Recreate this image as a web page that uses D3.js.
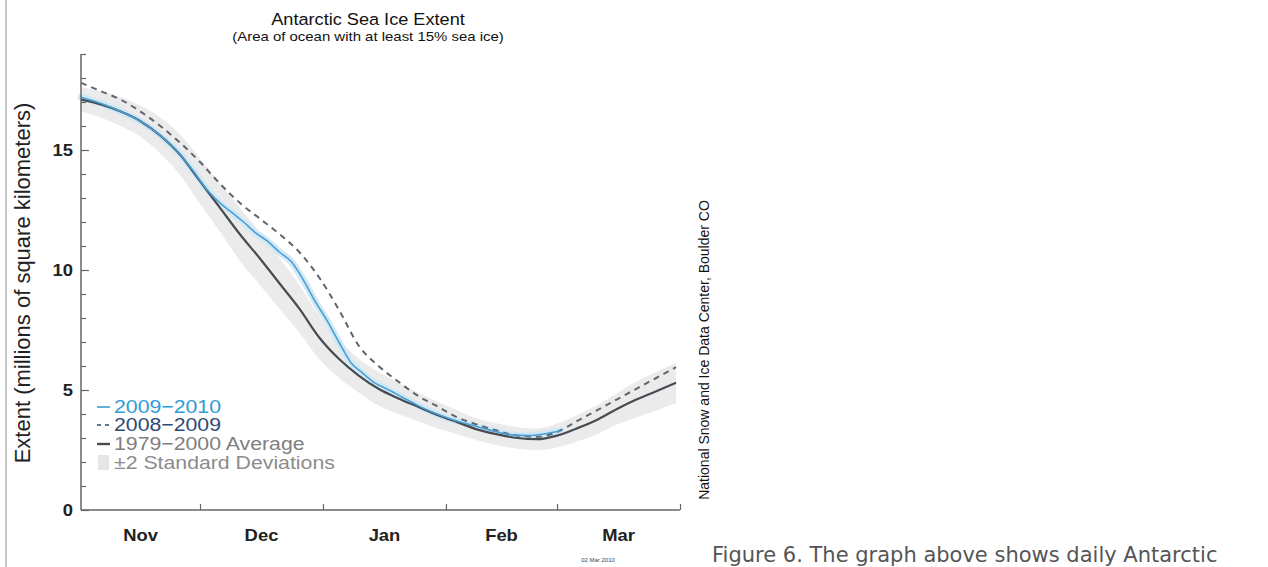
<!DOCTYPE html>
<html>
<head>
<meta charset="utf-8">
<script src="https://cdn.jsdelivr.net/npm/d3@7"></script>
<style>
  html, body { margin: 0; padding: 0; background: #fff; }
  svg { display: block; }
</style>
</head>
<body>
<svg id="chart" width="1268" height="567"></svg>
<script>
// Days counted from 1 November 2009
const avgDays = [0,5,10,15,20,25,30,35,40,45,50,55,60,65,70,75,80,85,90,95,100,105,110,115,120,125,130,135,140,145,150];
const avgValues = [17.1,16.9,16.6,16.2,15.6,14.8,13.7,12.6,11.5,10.5,9.45,8.4,7.2,6.3,5.6,5.05,4.65,4.3,3.95,3.65,3.35,3.15,3.0,2.95,3.1,3.4,3.75,4.2,4.6,4.95,5.3];
const bandHigh = [17.6,17.45,17.2,16.85,16.35,15.65,14.65,13.6,12.6,11.6,10.5,9.4,8.1,7.1,6.3,5.75,5.3,4.9,4.5,4.15,3.8,3.6,3.45,3.4,3.6,3.95,4.35,4.85,5.35,5.75,6.15];
const bandLow = [16.6,16.35,16.0,15.55,14.85,13.95,12.75,11.6,10.4,9.4,8.4,7.4,6.3,5.5,4.9,4.35,4.0,3.7,3.4,3.15,2.9,2.7,2.55,2.5,2.6,2.85,3.15,3.55,3.85,4.15,4.45];

const prevDays = [0,5,10,15,20,25,30,35,40,45,50,55,60,65,70,75,80,85,90,95,100,105,110,115,120,125,130,135,140,145,150];
const prevValues = [17.8,17.45,17.1,16.6,16.0,15.3,14.5,13.6,12.8,12.15,11.5,10.75,9.7,8.35,6.85,6.0,5.35,4.75,4.3,3.85,3.55,3.3,3.1,3.05,3.25,3.7,4.15,4.6,5.05,5.5,5.95];

const curDays = [0,4,8,12,16,20,24,28,32,35,38,41,44,47,50,53,56,59,62,65,68,71,74,77,81,85,89,93,97,101,105,109,113,117,121];
const curValues = [17.2,17.0,16.75,16.45,16.1,15.6,15.0,14.2,13.3,12.8,12.4,12.0,11.55,11.2,10.75,10.35,9.6,8.7,7.9,7.0,6.15,5.7,5.3,5.05,4.7,4.35,4.05,3.8,3.6,3.42,3.25,3.12,3.1,3.18,3.3];

const monthNames = ["Nov","Dec","Jan","Feb","Mar"];
const yMajorTicks = [0,5,10,15];
const legendLabels = ["2009\u22122010","2008\u22122009","1979\u22122000 Average","\u00b12 Standard Deviations"];

const start = new Date(2009, 10, 1);
const end = new Date(2010, 3, 1);
const toDate = d => d3.timeDay.offset(start, d);

const svg = d3.select("#chart");
const FONT = "'Liberation Sans', Arial, Helvetica, sans-serif";
const SX = 1.15; // horizontal stretch of the chart lettering

const x = d3.scaleTime().domain([start, end]).range([81, 680]);
const y = d3.scaleLinear().domain([0, 19]).range([510, 54]);

// page border on the left
svg.append("line").attr("x1", 6).attr("x2", 6).attr("y1", 0).attr("y2", 567)
  .attr("stroke", "#c8c8c8").attr("stroke-width", 2);

function label(g, px, py, txt, opts) {
  const o = Object.assign({size: 16, anchor: "start", fill: "#111", weight: "normal", rotate: 0, sx: SX, family: FONT}, opts || {});
  const t = g.append("g").attr("transform", `translate(${px},${py}) scale(${o.sx},1)` + (o.rotate ? ` rotate(${o.rotate})` : ""));
  return t.append("text").text(txt)
    .attr("font-family", o.family).attr("font-size", o.size)
    .attr("font-weight", o.weight).attr("fill", o.fill)
    .attr("text-anchor", o.anchor);
}

// titles
label(svg, 368, 25, "Antarctic Sea Ice Extent", {size: 16.5, anchor: "middle", sx: 1.1});
label(svg, 368, 41, "(Area of ocean with at least 15% sea ice)", {size: 13, anchor: "middle"});

const plot = svg.append("g");

// ±2 standard deviation band
const bandData = avgDays.map((d, i) => ({date: toDate(d), lo: bandLow[i], hi: bandHigh[i]}));
plot.append("path").datum(bandData)
  .attr("fill", "#ebebeb")
  .attr("d", d3.area().curve(d3.curveMonotoneX).x(d => x(d.date)).y0(d => y(d.lo)).y1(d => y(d.hi)));

const line = d3.line().curve(d3.curveMonotoneX).x(d => x(d.date)).y(d => y(d.v));
const avgData = avgDays.map((d, i) => ({date: toDate(d), v: avgValues[i]}));
const prevData = prevDays.map((d, i) => ({date: toDate(d), v: prevValues[i]}));
const curData = curDays.map((d, i) => ({date: toDate(d), v: curValues[i]}));

// soft halo beneath the current season
plot.append("path").datum(curData).attr("d", line)
  .attr("fill", "none").attr("stroke", "#d3e8f5").attr("stroke-width", 7).attr("stroke-linecap", "round");

plot.append("path").datum(avgData).attr("d", line)
  .attr("fill", "none").attr("stroke", "#474b52").attr("stroke-width", 2.2);

plot.append("path").datum(prevData).attr("d", line)
  .attr("fill", "none").attr("stroke", "#5f6670").attr("stroke-width", 2)
  .attr("stroke-dasharray", "6,5");

plot.append("path").datum(curData).attr("d", line)
  .attr("fill", "none").attr("stroke", "#4a9fd4").attr("stroke-width", 1.6);

// axes
const axisColor = "#666";
const yAxis = svg.append("g").attr("transform", "translate(81,0)")
  .call(d3.axisLeft(y).tickValues(d3.range(0, 20)).tickSize(-5).tickFormat(""));
yAxis.selectAll(".tick line").attr("stroke", axisColor).attr("stroke-width", 1.2)
  .attr("x2", d => yMajorTicks.includes(d) ? 8 : 5);
yAxis.select(".domain").attr("stroke", axisColor).attr("stroke-width", 1.5).attr("d", `M0,${y(19)}V${y(0)}`);

const monthStarts = d3.timeMonth.range(start, end).slice(1).concat([end]);
const xAxis = svg.append("g").attr("transform", `translate(0,${y(0)})`)
  .call(d3.axisBottom(x).tickValues(monthStarts).tickSize(-6).tickFormat(""));
xAxis.selectAll(".tick line").attr("stroke", axisColor).attr("stroke-width", 1.2);
xAxis.select(".domain").attr("stroke", axisColor).attr("stroke-width", 1.5).attr("d", `M81,0H680`);

yMajorTicks.forEach(v => label(svg, 73, y(v) + 6, String(v), {size: 16, anchor: "end", weight: "bold", fill: "#222"}));

const months = d3.timeMonth.range(start, end);
months.forEach((m, i) => {
  const mid = new Date((m.getTime() + d3.timeMonth.offset(m, 1).getTime()) / 2);
  label(svg, x(mid), 541, monthNames[i], {size: 16, anchor: "middle", weight: "bold", fill: "#222"});
});

label(svg, 30, 283, "Extent (millions of square kilometers)", {size: 22, anchor: "middle", rotate: -90, fill: "#222", sx: 1});

// legend
const lg = svg.append("g");
const rows = [407, 425, 444, 463];
lg.append("line").attr("x1", 97).attr("x2", 110).attr("y1", rows[0]).attr("y2", rows[0]).attr("stroke", "#3a9ad6").attr("stroke-width", 1.6);
lg.append("line").attr("x1", 97).attr("x2", 110).attr("y1", rows[1]).attr("y2", rows[1]).attr("stroke", "#2f4a72").attr("stroke-width", 1.6).attr("stroke-dasharray", "4,4");
lg.append("line").attr("x1", 97).attr("x2", 110).attr("y1", rows[2]).attr("y2", rows[2]).attr("stroke", "#474b52").attr("stroke-width", 2.4);
lg.append("rect").attr("x", 98).attr("y", rows[3] - 8).attr("width", 11).attr("height", 15).attr("fill", "#e6e6e6");
const legendColors = ["#2f9bd8", "#2e4a76", "#808080", "#8c8c8c"];
legendLabels.forEach((t, i) => label(lg, 114, rows[i] + 6, t, {size: 18.5, fill: legendColors[i]}));

// source note and date stamp
label(svg, 709, 350, "National Snow and Ice Data Center, Boulder CO", {size: 14, anchor: "middle", rotate: -90, fill: "#111", sx: 1});
label(svg, 598, 562, "02 Mar 2010", {size: 6, anchor: "middle", fill: "#444", sx: 1});

// figure caption
svg.append("text").attr("x", 712).attr("y", 562)
  .attr("font-family", "'DejaVu Sans', Verdana, sans-serif").attr("font-size", 21)
  .attr("fill", "#555").text("Figure 6. The graph above shows daily Antarctic");
</script>
</body>
</html>
